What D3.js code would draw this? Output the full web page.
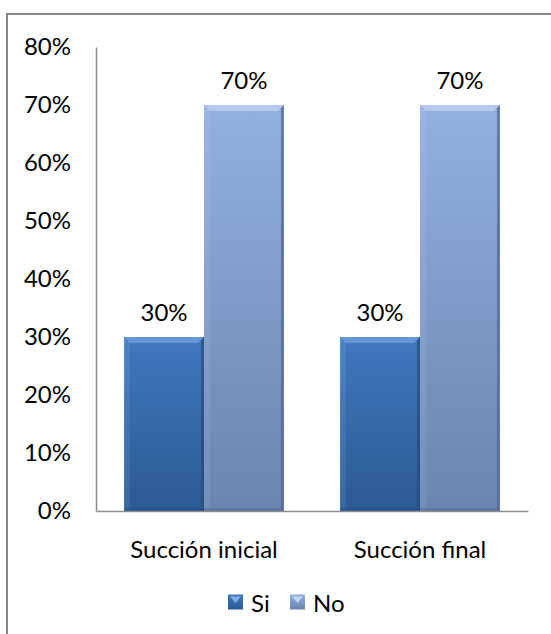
<!DOCTYPE html>
<html>
<head>
<meta charset="utf-8">
<script src="https://cdn.jsdelivr.net/npm/d3@7"></script>
<style>
  html, body { margin: 0; padding: 0; background: #fff; }
  svg { display: block; }
  text { font-family: Lato, "Open Sans", sans-serif; fill: #000; }
</style>
</head>
<body>
<svg id="chart" width="551" height="634"></svg>
<script>
const categories = ["Succión inicial", "Succión final"];
const seriesNames = ["Si", "No"];
const siValues = [0.30, 0.30];
const noValues = [0.70, 0.70];
const yTicks = [0, 0.1, 0.2, 0.3, 0.4, 0.5, 0.6, 0.7, 0.8];

const svg = d3.select("#chart");
const W = 551, H = 634;
const fontSize = 24;

const defs = svg.append("defs");
function grad(id, c1, c2) {
  const g = defs.append("linearGradient").attr("id", id)
    .attr("x1", 0).attr("y1", 0).attr("x2", 0).attr("y2", 1);
  g.append("stop").attr("offset", "0%").attr("stop-color", c1);
  g.append("stop").attr("offset", "100%").attr("stop-color", c2);
}
grad("gSi", "#3f78bf", "#2b5a94");
grad("gNo", "#93b0df", "#6b84b0");
grad("lSi", "#3f78bf", "#2b5a94");
grad("lNo", "#93b0df", "#6b84b0");

// outer border (clipped on right/bottom)
svg.append("rect").attr("x", 7).attr("y", 14).attr("width", 700).attr("height", 800)
  .attr("fill", "none").attr("stroke", "#878787").attr("stroke-width", 2);

const x0 = d3.scaleBand().domain(categories).range([96, 528])
  .paddingInner(0.26).paddingOuter(0.13);
const x1 = d3.scaleBand().domain(seriesNames).range([0, x0.bandwidth()]);
const y = d3.scaleLinear().domain([0, 0.8]).range([511, 47]);

const rows = categories.map((c, i) => ({ cat: c, vals: [
  { key: "Si", v: siValues[i] }, { key: "No", v: noValues[i] } ] }));

const fillFor = { Si: "url(#gSi)", No: "url(#gNo)" };
const bevelFor = { Si: "#6a9ad6", No: "#b9cdee" };
const edgeFor = { Si: "#244d80", No: "#4f6794" };

// axes
const yAxis = d3.axisLeft(y).tickValues(yTicks).tickFormat(d3.format(".0%")).tickSize(0).tickPadding(25);
const gy = svg.append("g").attr("transform", "translate(96,0)").call(yAxis);
gy.select(".domain").attr("stroke", "#8c8c8c").attr("stroke-width", 1.5);
gy.selectAll("text").attr("font-size", fontSize).attr("font-family", "Lato, sans-serif");

const groups = svg.append("g").selectAll("g").data(rows).join("g")
  .attr("transform", d => `translate(${x0(d.cat)},0)`);

groups.each(function(d) {
  const g = d3.select(this);
  d.vals.forEach(b => {
    const bx = x1(b.key), bw = x1.bandwidth();
    const top = y(b.v), bot = y(0);
    g.append("rect").attr("x", bx).attr("y", top).attr("width", bw).attr("height", bot - top)
      .attr("fill", fillFor[b.key]);
    // bevel top
    const bv = 6;
    g.append("path")
      .attr("d", `M${bx},${top} L${bx + bw},${top} L${bx + bw - bv},${top + bv} L${bx + bv},${top + bv} Z`)
      .attr("fill", bevelFor[b.key]).attr("opacity", 0.9);
    // left bevel
    g.append("path")
      .attr("d", `M${bx},${top} L${bx + bv},${top + bv} L${bx + bv},${bot} L${bx},${bot} Z`)
      .attr("fill", "#ffffff").attr("opacity", 0.08);
    // right dark edge
    g.append("path")
      .attr("d", `M${bx + bw},${top} L${bx + bw},${bot} L${bx + bw - bv / 2},${bot} L${bx + bw - bv / 2},${top + bv / 2} Z`)
      .attr("fill", edgeFor[b.key]).attr("opacity", 0.7);
    // bottom shade
    g.append("rect").attr("x", bx).attr("y", bot - 3).attr("width", bw).attr("height", 3)
      .attr("fill", edgeFor[b.key]).attr("opacity", 0.5);
    // data label
    g.append("text").attr("x", bx + bw / 2).attr("y", top - 26)
      .attr("text-anchor", "middle").attr("dominant-baseline", "central")
      .attr("font-size", fontSize).text(d3.format(".0%")(b.v));
  });
});

// x axis
const xAxis = d3.axisBottom(x0).tickSize(0).tickPadding(30);
const gx = svg.append("g").attr("transform", "translate(0,511)").call(xAxis);
gx.select(".domain").attr("stroke", "#8c8c8c").attr("stroke-width", 1.5);
gx.selectAll("text").attr("font-size", fontSize).attr("font-family", "Lato, sans-serif");

// legend
const legendX = { Si: 228, No: 290 };
const lg = svg.append("g");
seriesNames.forEach(s => {
  const lx = legendX[s], ly = 602;
  lg.append("rect").attr("x", lx).attr("y", ly - 7.5).attr("width", 15).attr("height", 15)
    .attr("fill", s === "Si" ? "url(#lSi)" : "url(#lNo)");
  lg.append("path").attr("d", `M${lx + 2},${ly - 5.5} L${lx + 13},${ly - 5.5} L${lx + 7.5},${ly + 1} Z`)
    .attr("fill", s === "Si" ? "#8db5e8" : "#c9daf3").attr("opacity", 0.9);
  lg.append("text").attr("x", lx + 23).attr("y", ly).attr("dominant-baseline", "central")
    .attr("font-size", fontSize).text(s);
});
</script>
</body>
</html>
